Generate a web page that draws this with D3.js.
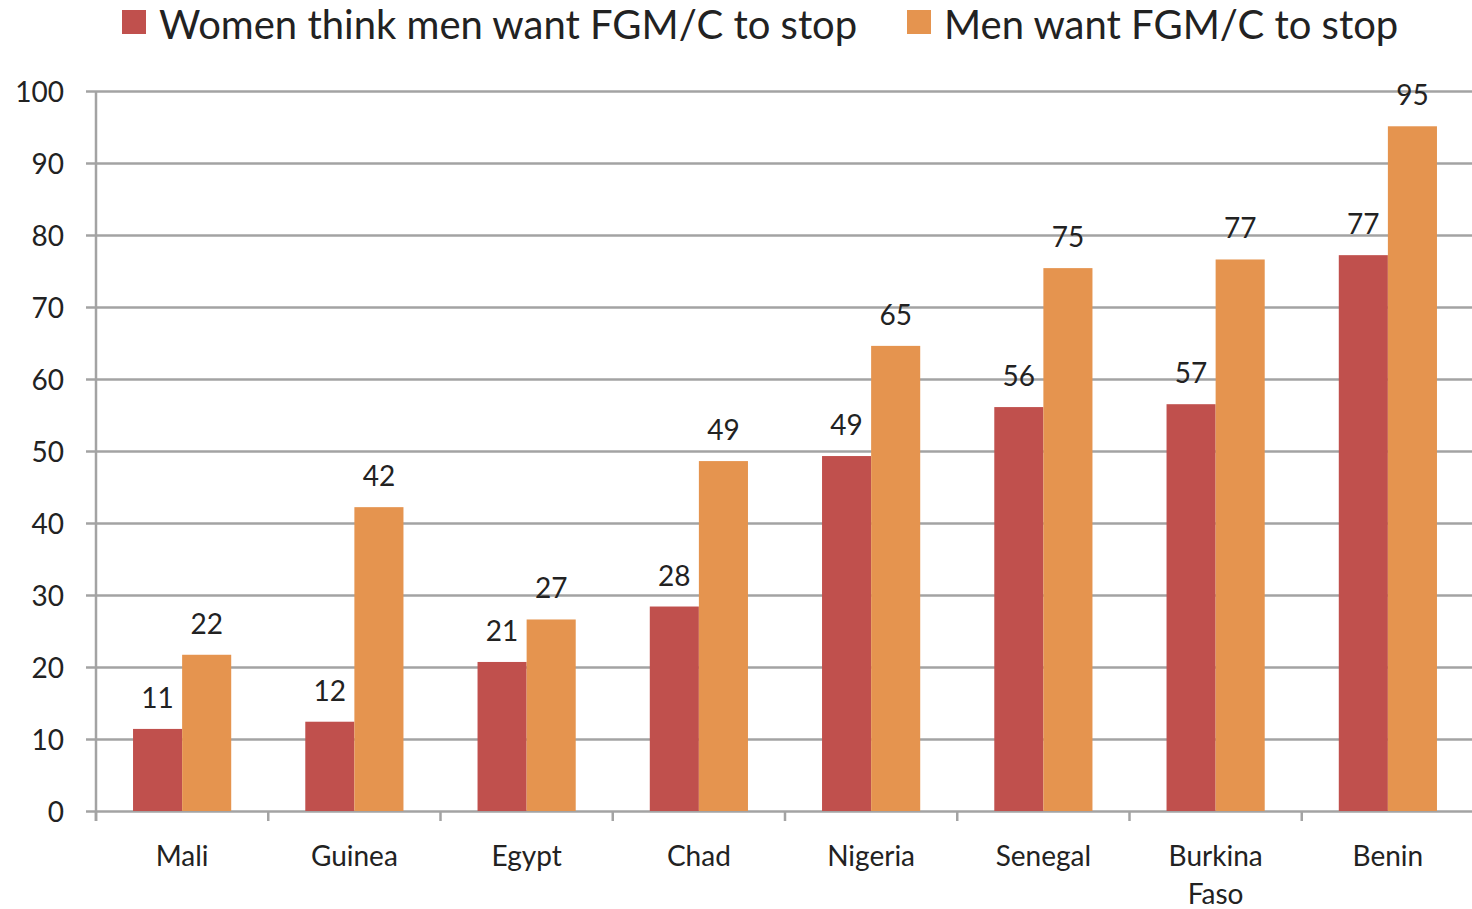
<!DOCTYPE html>
<html>
<head>
<meta charset="utf-8">
<script src="https://cdn.jsdelivr.net/npm/d3@7"></script>
<style>
  body { margin: 0; background: #fff; }
  svg text { font-family: Lato, "Open Sans", sans-serif; fill: #222; }
</style>
</head>
<body>
<svg id="chart"></svg>
<script>
const countries = ["Mali", "Guinea", "Egypt", "Chad", "Nigeria", "Senegal", "Burkina Faso", "Benin"];
const womenThink = [11.4, 12.4, 20.7, 28.4, 49.3, 56.1, 56.5, 77.2];
const menWant = [21.7, 42.2, 26.6, 48.6, 64.6, 75.4, 76.6, 95.1];
const seriesNames = ["Women think men want FGM/C to stop", "Men want FGM/C to stop"];
const colors = ["#c0504d", "#e5944f"];
const yTicks = [0, 10, 20, 30, 40, 50, 60, 70, 80, 90, 100];

const W = 1472, H = 909;
const margin = {top: 91, right: -2, bottom: 98, left: 96};
const width = W - margin.left - margin.right,
      height = H - margin.top - margin.bottom;

const svg = d3.select("#chart")
    .attr("width", W)
    .attr("height", H);

const g = svg.append("g")
    .attr("transform", `translate(${margin.left},${margin.top})`);

const x = d3.scaleBand()
    .domain(countries)
    .range([0, width])
    .paddingInner(0)
    .paddingOuter(0);

const x1 = d3.scaleBand()
    .domain([0, 1])
    .range([x.bandwidth() * 0.215, x.bandwidth() * 0.785]);

const y = d3.scaleLinear()
    .domain([0, 100])
    .range([height, 0]);

// gridlines + y labels
const yAxis = g.append("g")
    .call(d3.axisLeft(y).tickValues(yTicks).tickSize(-width - 10).tickPadding(22))
    .attr("transform", "translate(-10,0)");
yAxis.select(".domain").remove();
yAxis.selectAll(".tick line")
    .attr("stroke", "#a3a3a3")
    .attr("stroke-width", 2.5);
yAxis.selectAll(".tick text")
    .attr("font-size", 28)
    .attr("dy", "0.36em");

// vertical axis line
g.append("line")
    .attr("x1", 0).attr("x2", 0)
    .attr("y1", 0).attr("y2", height + 10)
    .attr("stroke", "#a3a3a3")
    .attr("stroke-width", 2.5);

// category ticks
g.selectAll(".cat-tick")
    .data(countries.concat(["end"]))
    .join("line")
    .attr("x1", (d, i) => i * x.bandwidth())
    .attr("x2", (d, i) => i * x.bandwidth())
    .attr("y1", height)
    .attr("y2", height + 10)
    .attr("stroke", "#a3a3a3")
    .attr("stroke-width", 2.5);

// bars
const groups = g.selectAll(".grp")
    .data(countries)
    .join("g")
    .attr("transform", d => `translate(${x(d)},0)`);

[womenThink, menWant].forEach((vals, s) => {
    groups.append("rect")
        .attr("x", x1(s))
        .attr("width", x1.bandwidth())
        .attr("y", (d, i) => y(vals[i]))
        .attr("height", (d, i) => height - y(vals[i]))
        .attr("fill", colors[s]);

    groups.append("text")
        .attr("x", x1(s) + x1.bandwidth() / 2)
        .attr("y", (d, i) => y(vals[i]) - 21)
        .attr("text-anchor", "middle")
        .attr("font-size", 28)
        .text((d, i) => d3.format(".0f")(vals[i]));
});

// category labels
groups.append("text")
    .attr("x", x.bandwidth() / 2)
    .attr("y", height + 55)
    .attr("text-anchor", "middle")
    .attr("font-size", 28)
    .each(function(d) {
        const words = d === "Burkina Faso" ? ["Burkina", "Faso"] : [d];
        words.forEach((w, k) => {
            d3.select(this).append("tspan")
                .attr("x", x.bandwidth() / 2)
                .attr("dy", k === 0 ? 0 : 38)
                .text(w);
        });
    });

// legend
const legendX = [122, 907];
const legend = svg.selectAll(".legend")
    .data(seriesNames)
    .join("g")
    .attr("transform", (d, i) => `translate(${legendX[i]},10)`);
legend.append("rect")
    .attr("width", 24)
    .attr("height", 24)
    .attr("fill", (d, i) => colors[i]);
legend.append("text")
    .attr("x", 37)
    .attr("y", 29)
    .attr("font-size", 40)
    .text(d => d);
</script>
</body>
</html>
